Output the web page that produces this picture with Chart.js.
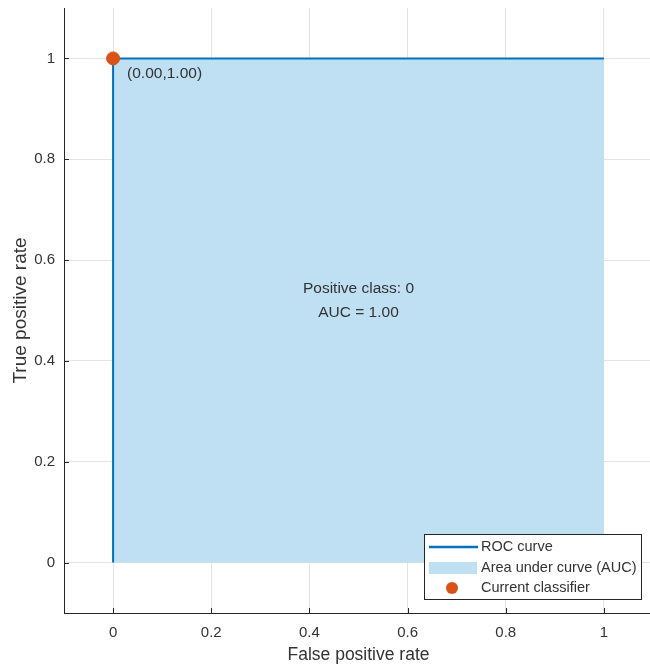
<!DOCTYPE html>
<html>
<head>
<meta charset="utf-8">
<script src="https://cdn.jsdelivr.net/npm/chart.js@4"></script>
<style>
    html, body { margin: 0; padding: 0; overflow: hidden; background: #fff; }
    canvas { display: block; }
</style>
</head>
<body>
<canvas id="rocChart" width="653" height="666"></canvas>
<script>
// -----------------------DADOS---------------------
const fprValues = [0, 0, 1];
const tprValues = [0, 1, 1];
const currentFpr = [0];
const currentTpr = [1];
const tickValues = [0, 0.2, 0.4, 0.6, 0.8, 1];
const tickLabels = ['0', '0.2', '0.4', '0.6', '0.8', '1'];
const pointLabel = '(0.00,1.00)';
const infoLines = ['Positive class: 0', 'AUC = 1.00'];
const legendLabels = ['ROC curve', 'Area under curve (AUC)', 'Current classifier'];
//---------------------------------------------------------------

const blue = '#0072BD';
const areaBlue = '#bfdff2';
const orange = '#D95319';
const axisColor = '#262626';
const textColor = '#333333';
const fontFamily = '"Liberation Sans", Arial, Helvetica, sans-serif';

function toPoints(xs, ys){
    return xs.map((x, i) => ({x: x, y: ys[i]}));
}

// tira o padding automatico das escalas
function semPadding(s){
    s.paddingTop = 0;
    s.paddingBottom = 0;
    s.paddingLeft = 0;
    s.paddingRight = 0;
}

// ticks para dentro, como no MATLAB
const innerTicks = {
    id: 'innerTicks',
    afterDraw(chart){
        const ctx = chart.ctx;
        const xs = chart.scales.x;
        const ys = chart.scales.y;
        const area = chart.chartArea;
        ctx.save();
        ctx.strokeStyle = axisColor;
        ctx.lineWidth = 1;
        ctx.beginPath();
        tickValues.forEach(v => {
            const px = Math.round(xs.getPixelForValue(v)) + 0.5;
            ctx.moveTo(px, area.bottom);
            ctx.lineTo(px, area.bottom - 5);
            const py = Math.round(ys.getPixelForValue(v)) + 0.5;
            ctx.moveTo(area.left, py);
            ctx.lineTo(area.left + 5, py);
        });
        ctx.stroke();
        ctx.restore();
    }
};

// textos dentro do gráfico
const textos = {
    id: 'textos',
    afterDatasetsDraw(chart){
        const ctx = chart.ctx;
        const xs = chart.scales.x;
        const ys = chart.scales.y;
        ctx.save();
        ctx.fillStyle = textColor;
        ctx.font = '15.5px ' + fontFamily;
        ctx.textBaseline = 'middle';

        ctx.textAlign = 'left';
        ctx.fillText(pointLabel, xs.getPixelForValue(currentFpr[0]) + 14, ys.getPixelForValue(currentTpr[0]) + 15);

        ctx.textAlign = 'center';
        const cx = xs.getPixelForValue(0.5);
        const cy = ys.getPixelForValue(0.5);
        ctx.fillText(infoLines[0], cx, cy - 22);
        ctx.fillText(infoLines[1], cx, cy + 2);
        ctx.restore();
    }
};

// legenda no canto inferior direito
const legendaBox = {
    id: 'legendaBox',
    afterDraw(chart){
        const ctx = chart.ctx;
        const x0 = 424, y0 = 534, w = 217, h = 65;
        ctx.save();
        ctx.fillStyle = '#fff';
        ctx.fillRect(x0, y0, w, h);
        ctx.strokeStyle = axisColor;
        ctx.lineWidth = 1;
        ctx.strokeRect(x0 + 0.5, y0 + 0.5, w, h);

        const rows = [y0 + 13, y0 + 34, y0 + 54];

        ctx.strokeStyle = blue;
        ctx.lineWidth = 2.5;
        ctx.beginPath();
        ctx.moveTo(x0 + 5, rows[0]);
        ctx.lineTo(x0 + 54, rows[0]);
        ctx.stroke();

        ctx.fillStyle = areaBlue;
        ctx.fillRect(x0 + 5, rows[1] - 6, 48, 12);

        ctx.fillStyle = orange;
        ctx.beginPath();
        ctx.arc(x0 + 28, rows[2], 6, 0, Math.PI * 2);
        ctx.fill();

        ctx.fillStyle = textColor;
        ctx.font = '14.5px ' + fontFamily;
        ctx.textAlign = 'left';
        ctx.textBaseline = 'middle';
        legendLabels.forEach((t, i) => ctx.fillText(t, x0 + 57, rows[i]));
        ctx.restore();
    }
};

const ctxRoc = document.getElementById('rocChart');

new Chart(ctxRoc, {
    type: 'scatter',
    data: {
        datasets: [
            {
                label: legendLabels[2],
                data: toPoints(currentFpr, currentTpr),
                backgroundColor: orange,
                borderColor: orange,
                pointRadius: 6.5,
                order: 0
            },
            {
                label: legendLabels[0],
                data: toPoints(fprValues, tprValues),
                showLine: true,
                borderColor: blue,
                borderWidth: 2,
                pointRadius: 0,
                fill: false,
                order: 1
            },
            {
                label: legendLabels[1],
                data: toPoints(fprValues, tprValues),
                showLine: true,
                borderWidth: 0,
                borderColor: 'rgba(0,0,0,0)',
                backgroundColor: areaBlue,
                pointRadius: 0,
                fill: 'origin',
                order: 2
            }
        ]
    },
    options: {
        responsive: false,
        animation: false,
        layout: { autoPadding: false, padding: { top: 8, left: 0, right: 0, bottom: 0 } },
        plugins: {
            legend: { display: false },
            tooltip: { enabled: false }
        },
        scales: {
            x: {
                type: 'linear',
                min: -0.1,
                max: 1.1,
                afterBuildTicks: s => { s.ticks = tickValues.map(v => ({value: v})); },
                afterFit: s => { s.height = 53; semPadding(s); },
                ticks: {
                    callback: (v, i) => tickLabels[i],
                    color: textColor,
                    font: { family: fontFamily, size: 15 },
                    padding: 11,
                    maxRotation: 0
                },
                grid: { color: '#e3e3e3', drawTicks: false },
                border: { color: axisColor, width: 1 },
                title: {
                    display: true,
                    text: 'False positive rate',
                    color: textColor,
                    font: { family: fontFamily, size: 17.5 },
                    padding: { top: 0, bottom: 0 }
                }
            },
            y: {
                type: 'linear',
                min: -0.1,
                max: 1.1,
                afterBuildTicks: s => { s.ticks = tickValues.map(v => ({value: v})); },
                afterFit: s => { s.width = 64; semPadding(s); },
                ticks: {
                    callback: (v, i) => tickLabels[i],
                    color: textColor,
                    font: { family: fontFamily, size: 15 },
                    padding: 9
                },
                grid: { color: '#e3e3e3', drawTicks: false },
                border: { color: axisColor, width: 1 },
                title: {
                    display: true,
                    text: 'True positive rate',
                    color: textColor,
                    font: { family: fontFamily, size: 19 },
                    padding: { top: 9.5, bottom: 0 }
                }
            }
        }
    },
    plugins: [innerTicks, textos, legendaBox]
});
</script>
</body>
</html>
